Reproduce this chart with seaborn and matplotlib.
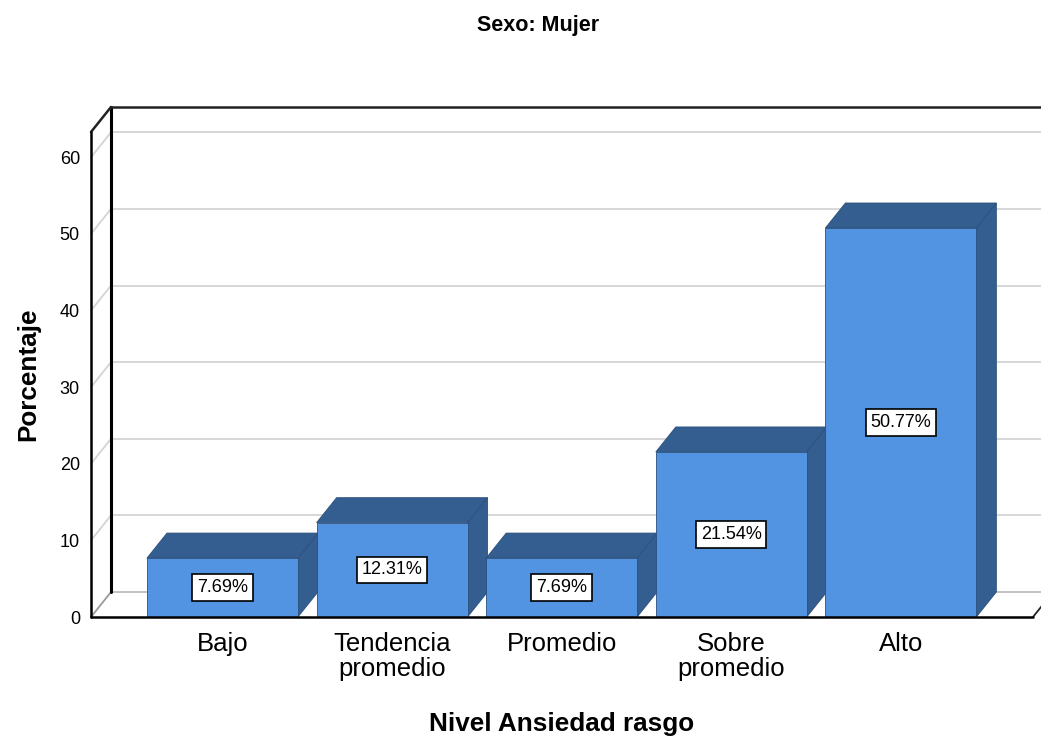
import matplotlib
matplotlib.use("Agg")
import matplotlib.pyplot as plt
from matplotlib.patches import Polygon
import seaborn as sns
import pandas as pd

# Data
categories = ["Bajo", "Tendencia\npromedio", "Promedio", "Sobre\npromedio", "Alto"]
percentages = [7.69, 12.31, 7.69, 21.54, 50.77]
y_ticks = [0, 10, 20, 30, 40, 50, 60]

df = pd.DataFrame({"nivel": categories, "pct": percentages})

sns.set_theme(style="white")
plt.rcParams["font.family"] = ["Liberation Sans", "DejaVu Sans"]
plt.rcParams.update({"text.color": "black", "axes.labelcolor": "black",
                     "xtick.color": "black", "ytick.color": "black"})

W, H = 1041, 736
fig = plt.figure(figsize=(W / 100, H / 100), dpi=100)

# Front plane of the box (pixels)
left_px, right_px, bottom_px, top_px = 91, 1033, 617, 132
ax = fig.add_axes([left_px / W, (H - bottom_px) / H,
                   (right_px - left_px) / W, (bottom_px - top_px) / H])

x0, x1 = -0.775, 4.779
y0, y1 = 0, 63.3

# Depth offset of the oblique projection, in data units
depth_px_x, depth_px_y = 20, 25
dx = depth_px_x * (x1 - x0) / (right_px - left_px)
dy = depth_px_y * (y1 - y0) / (bottom_px - top_px)

front = "#5294e2"
dark = "#345e90"
edge = "#2c4f7c"
grid_c = "#d4d4d4"

# Front faces of the bars
bar_w = 0.89
sns.barplot(data=df, x="nivel", y="pct", color=front, saturation=1,
            width=bar_w, edgecolor=edge, linewidth=0.6, ax=ax, zorder=3)
ax.set_xlim(x0, x1)
ax.set_ylim(y0, y1)

# Back wall gridlines and side-wall diagonals
for t in y_ticks[1:]:
    ax.plot([x0 + dx, x1 + dx], [t + dy, t + dy], color=grid_c, lw=1.3,
            clip_on=False, zorder=0.5)
    ax.plot([x0, x0 + dx], [t, t + dy], color=grid_c, lw=1.3,
            clip_on=False, zorder=0.5)

# Floor
ax.plot([x0 + dx, x1 + dx], [dy, dy], color="#bdbdbd", lw=1.3, clip_on=False, zorder=0.6)
ax.plot([x0, x0 + dx], [0, dy], color="#9a9a9a", lw=1.3, clip_on=False, zorder=0.6)
ax.plot([x1, x1 + dx], [0, dy], color="#222222", lw=1.3, clip_on=False, zorder=0.6)

# Box frame
ax.plot([x0 + dx, x0 + dx], [dy, y1 + dy], color="black", lw=2.2, clip_on=False, zorder=0.7)
ax.plot([x0 + dx, x1 + dx], [y1 + dy, y1 + dy], color="#222222", lw=1.8, clip_on=False, zorder=0.7)
ax.plot([x0, x0 + dx], [y1, y1 + dy], color="#222222", lw=1.8, clip_on=False, zorder=0.7)

# Top and side faces of the bars, plus value labels
for i, v in enumerate(percentages):
    l, r = i - bar_w / 2, i + bar_w / 2
    top = Polygon([(l, v), (l + dx, v + dy), (r + dx, v + dy), (r, v)],
                  closed=True, fc=dark, ec=edge, lw=0.6, zorder=2, clip_on=False)
    side = Polygon([(r, 0), (r, v), (r + dx, v + dy), (r + dx, dy)],
                   closed=True, fc=dark, ec=edge, lw=0.6, zorder=2, clip_on=False)
    ax.add_patch(side)
    ax.add_patch(top)
    ax.text(i, v / 2, f"{v:.2f}%", ha="center", va="center", fontsize=13,
            color="black", zorder=5,
            bbox=dict(boxstyle="square,pad=0.26", fc="white", ec="black", lw=1.2))

# Front spines
ax.plot([x0, x0], [0, y1], color="black", lw=1.8, clip_on=False, zorder=6)
ax.plot([x0, x1], [0, 0], color="black", lw=1.8, clip_on=False, zorder=6)
for s in ax.spines.values():
    s.set_visible(False)

ax.set_yticks(y_ticks)
ax.set_yticklabels([str(t) for t in y_ticks], fontsize=13)
ax.tick_params(axis="y", length=0, pad=8)
ax.tick_params(axis="x", length=0, pad=11, labelsize=18.5)
for lab in ax.get_xticklabels():
    lab.set_linespacing(1.05)

ax.set_xlabel("Nivel Ansiedad rasgo", fontsize=18.8, fontweight="bold", labelpad=22)
ax.set_ylabel("Porcentaje", fontsize=18.8, fontweight="bold", labelpad=14)

fig.text(538 / W, 1 - 25 / H, "Sexo: Mujer", ha="center", va="center",
         fontsize=15.5, fontweight="bold")

fig.savefig("out.png", dpi=100, facecolor="white")
